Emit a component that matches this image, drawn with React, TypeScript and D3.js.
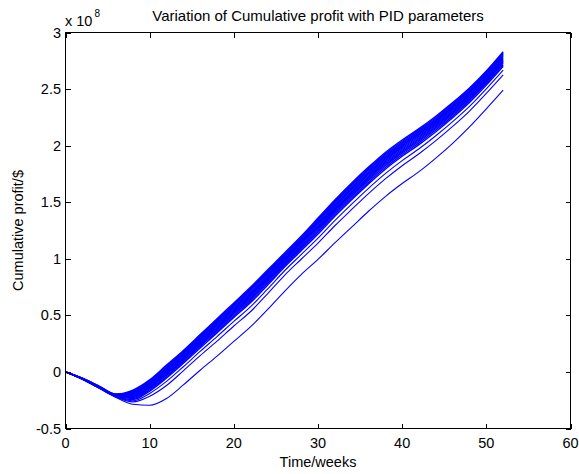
import React from "react";
import * as d3 from "d3";

const weeks = [0, 2, 4, 6, 8, 10, 12, 14, 16, 18, 20, 22, 24, 26, 28, 30, 32, 34, 36, 38, 40, 42, 44, 46, 48, 50, 52];

// Cumulative profit (x 1e8) for each PID parameter set
const run01 = [0, -0.055, -0.125, -0.195, -0.16, -0.07, 0.06, 0.19, 0.33, 0.47, 0.61, 0.75, 0.9, 1.05, 1.2, 1.36, 1.52, 1.67, 1.81, 1.94, 2.05, 2.15, 2.26, 2.38, 2.51, 2.66, 2.83];
const run02 = [0, -0.056, -0.127, -0.198, -0.167, -0.078, 0.051, 0.181, 0.321, 0.46, 0.6, 0.739, 0.89, 1.04, 1.19, 1.349, 1.509, 1.658, 1.798, 1.928, 2.039, 2.139, 2.249, 2.37, 2.5, 2.65, 2.82];
const run03 = [0, -0.057, -0.129, -0.2, -0.173, -0.086, 0.042, 0.172, 0.311, 0.45, 0.59, 0.728, 0.879, 1.03, 1.18, 1.338, 1.497, 1.647, 1.787, 1.917, 2.027, 2.128, 2.238, 2.359, 2.49, 2.64, 2.81];
const run04 = [0, -0.058, -0.131, -0.203, -0.18, -0.093, 0.033, 0.163, 0.302, 0.44, 0.579, 0.718, 0.869, 1.02, 1.169, 1.327, 1.486, 1.635, 1.775, 1.905, 2.016, 2.117, 2.228, 2.349, 2.479, 2.63, 2.799];
const run05 = [0, -0.059, -0.132, -0.204, -0.186, -0.101, 0.024, 0.154, 0.293, 0.43, 0.569, 0.707, 0.858, 1.01, 1.159, 1.316, 1.474, 1.623, 1.763, 1.893, 2.004, 2.106, 2.217, 2.338, 2.469, 2.62, 2.789];
const run06 = [0, -0.06, -0.133, -0.206, -0.193, -0.109, 0.015, 0.145, 0.284, 0.421, 0.559, 0.696, 0.848, 1.001, 1.149, 1.305, 1.463, 1.612, 1.752, 1.882, 1.993, 2.095, 2.206, 2.328, 2.459, 2.611, 2.779];
const run07 = [0, -0.06, -0.134, -0.207, -0.2, -0.117, 0.006, 0.136, 0.274, 0.411, 0.549, 0.685, 0.837, 0.991, 1.139, 1.293, 1.452, 1.6, 1.74, 1.87, 1.982, 2.083, 2.195, 2.317, 2.449, 2.601, 2.769];
const run08 = [0, -0.061, -0.135, -0.208, -0.206, -0.125, -0.003, 0.127, 0.265, 0.401, 0.539, 0.674, 0.827, 0.981, 1.129, 1.282, 1.44, 1.588, 1.728, 1.858, 1.97, 2.072, 2.184, 2.307, 2.439, 2.591, 2.759];
const run09 = [0, -0.061, -0.136, -0.209, -0.213, -0.132, -0.012, 0.118, 0.256, 0.391, 0.528, 0.664, 0.816, 0.971, 1.118, 1.271, 1.429, 1.576, 1.716, 1.846, 1.959, 2.061, 2.174, 2.296, 2.428, 2.581, 2.748];
const run10 = [0, -0.062, -0.137, -0.21, -0.219, -0.14, -0.021, 0.109, 0.246, 0.381, 0.518, 0.653, 0.806, 0.961, 1.108, 1.26, 1.417, 1.565, 1.705, 1.835, 1.947, 2.05, 2.163, 2.286, 2.418, 2.571, 2.738];
const run11 = [0, -0.062, -0.138, -0.212, -0.226, -0.148, -0.03, 0.1, 0.237, 0.371, 0.508, 0.642, 0.795, 0.951, 1.098, 1.249, 1.406, 1.553, 1.693, 1.823, 1.936, 2.039, 2.152, 2.275, 2.408, 2.561, 2.728];
const run12 = [0, -0.063, -0.139, -0.214, -0.235, -0.158, -0.042, 0.088, 0.225, 0.358, 0.494, 0.628, 0.781, 0.938, 1.084, 1.234, 1.391, 1.537, 1.677, 1.807, 1.921, 2.024, 2.138, 2.261, 2.394, 2.548, 2.714];
const run13 = [0, -0.063, -0.14, -0.216, -0.244, -0.169, -0.054, 0.076, 0.212, 0.345, 0.481, 0.613, 0.767, 0.925, 1.071, 1.219, 1.376, 1.522, 1.662, 1.792, 1.906, 2.009, 2.123, 2.247, 2.381, 2.535, 2.701];
const run14 = [0, -0.064, -0.142, -0.218, -0.255, -0.19, -0.084, 0.046, 0.181, 0.312, 0.447, 0.577, 0.732, 0.892, 1.037, 1.182, 1.338, 1.483, 1.623, 1.753, 1.868, 1.972, 2.087, 2.212, 2.347, 2.502, 2.667];
const run15 = [0, -0.064, -0.143, -0.22, -0.265, -0.215, -0.12, 0.01, 0.144, 0.272, 0.406, 0.534, 0.69, 0.852, 0.996, 1.138, 1.292, 1.436, 1.576, 1.706, 1.822, 1.928, 2.044, 2.17, 2.306, 2.462, 2.626];
const run16 = [0, -0.065, -0.145, -0.225, -0.285, -0.295, -0.235, -0.115, 0.015, 0.14, 0.27, 0.4, 0.55, 0.71, 0.86, 0.995, 1.14, 1.28, 1.42, 1.55, 1.665, 1.77, 1.89, 2.02, 2.165, 2.325, 2.49];

const runs = [run01, run02, run03, run04, run05, run06, run07, run08, run09, run10, run11, run12, run13, run14, run15, run16];

const xTicks = [0, 10, 20, 30, 40, 50, 60];
const yTicks = [-0.5, 0, 0.5, 1, 1.5, 2, 2.5, 3];

const title = "Variation of Cumulative profit with PID parameters";
const xLabel = "Time/weeks";
const yLabel = "Cumulative profit/$";

export default function App() {
  const W = 579;
  const H = 474;
  const left = 65.5, right = 570.5, top = 32.5, bottom = 428.5;
  const x = d3.scaleLinear().domain([0, 60]).range([left, right]);
  const y = d3.scaleLinear().domain([-0.5, 3]).range([bottom, top]);
  const line = d3
    .line<number>()
    .x((_, i) => x(weeks[i]))
    .y((d) => y(d))
    .curve(d3.curveMonotoneX);
  const font = "'Liberation Sans', Arial, Helvetica, sans-serif";
  const fs = 14.5;
  const tl = 5;
  const cx = (left + right) / 2;
  const cy = (top + bottom) / 2;

  return (
    <div style={{ position: "absolute", left: 0, top: 0, width: W, height: H, background: "#fff" }}>
      <svg width={W} height={H} style={{ display: "block" }} fontFamily={font}>
        <rect x={0} y={0} width={W} height={H} fill="#fff" />
        <g fill="none" stroke="#0000ff">
          {runs.map((r, k) => (
            <path key={k} d={line(r) || ""} strokeWidth={k < 13 ? 1.4 : 1.1} />
          ))}
        </g>
        <g stroke="#000" strokeWidth={1} fill="none" shapeRendering="crispEdges">
          <rect x={left} y={top} width={right - left} height={bottom - top} />
          {xTicks.map((t) => (
            <g key={"xt" + t}>
              <line x1={Math.round(x(t)) + 0.5} x2={Math.round(x(t)) + 0.5} y1={bottom} y2={bottom - tl} />
              <line x1={Math.round(x(t)) + 0.5} x2={Math.round(x(t)) + 0.5} y1={top} y2={top + tl} />
            </g>
          ))}
          {yTicks.map((t) => (
            <g key={"yt" + t}>
              <line x1={left} x2={left + tl} y1={Math.round(y(t)) + 0.5} y2={Math.round(y(t)) + 0.5} />
              <line x1={right} x2={right - tl} y1={Math.round(y(t)) + 0.5} y2={Math.round(y(t)) + 0.5} />
            </g>
          ))}
        </g>
        <g fontSize={fs} fill="#000">
          {xTicks.map((t) => (
            <text key={"xl" + t} x={x(t)} y={448} textAnchor="middle">
              {d3.format("d")(t)}
            </text>
          ))}
          {yTicks.map((t) => (
            <text key={"yl" + t} x={61} y={y(t) + 5} textAnchor="end">
              {String(t)}
            </text>
          ))}
          <text x={65} y={26}>x 10</text>
          <text x={94.5} y={17} fontSize={10}>8</text>
          <text x={cx} y={21} textAnchor="middle" fontSize={15}>{title}</text>
          <text x={cx} y={467} textAnchor="middle">{xLabel}</text>
          <text transform={`translate(23,${cy}) rotate(-90)`} textAnchor="middle">{yLabel}</text>
        </g>
      </svg>
    </div>
  );
}
